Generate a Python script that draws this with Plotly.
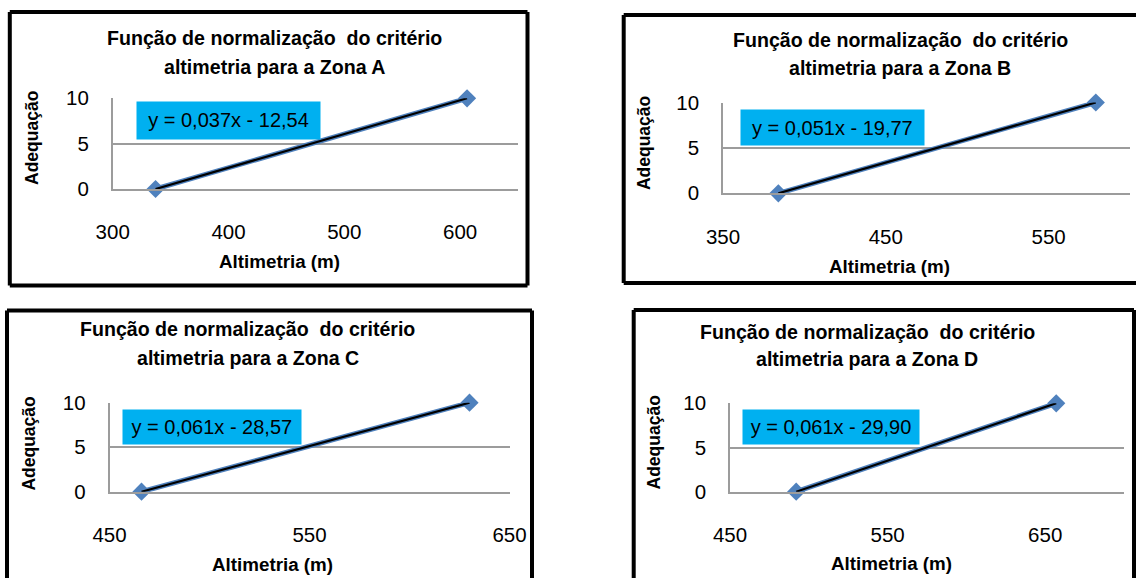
import plotly.graph_objects as go

# ---- data ----
zones = ["A", "B", "C", "D"]
altimetria = {
    "A": [337, 606],
    "B": [384, 579],
    "C": [466, 630],
    "D": [492, 657],
}
adequacao = {
    "A": [0, 10],
    "B": [0, 10],
    "C": [0, 10],
    "D": [0, 10],
}
equations = {
    "A": "y = 0,037x - 12,54",
    "B": "y = 0,051x - 19,77",
    "C": "y = 0,061x - 28,57",
    "D": "y = 0,061x - 29,90",
}
x_ranges = {"A": [300, 650], "B": [350, 600], "C": [450, 650], "D": [450, 700]}
x_tick0 = {"A": 300, "B": 350, "C": 450, "D": 450}
y_ticks = [0, 5, 10]
title_line1 = "Função de normalização\u00a0 do critério"
title_line2 = "altimetria para a Zona {}"
x_title = "Altimetria (m)"
y_title = "Adequação"

# ---- layout geometry (pixels) ----
W, H = 1136, 578
plot_px = {  # x0, x1, ytop, ybottom
    "A": (112.7, 518, 98.3, 189),
    "B": (723, 1130, 102.5, 193.3),
    "C": (109.5, 509.5, 402.7, 491.7),
    "D": (730, 1124, 403.3, 491.7),
}
# visible border edges: (x0, y0, x1, y1) segments in px
border_edges = {
    "A": [(9.8, 12, 527.5, 12), (527.5, 12, 527.5, 285.5),
          (527.5, 285.5, 9.8, 285.5), (9.8, 285.5, 9.8, 12)],
    "B": [(623.7, 15, 1136, 15), (623.7, 15, 623.7, 283), (623.7, 283, 1136, 283)],
    "C": [(7, 578, 7, 310.5), (7, 310.5, 532, 310.5), (532, 310.5, 532, 578)],
    "D": [(633.7, 578, 633.7, 310), (633.7, 310, 1134, 310), (1134, 310, 1134, 578)],
}
title_px = {  # center x, y line1, y line2
    "A": (274.5, 38.3, 66.7),
    "B": (900, 40, 68.3),
    "C": (248, 329.3, 357.7),
    "D": (867, 331.7, 359),
}
ytitle_px = {"A": (32.7, 138.3), "B": (643.8, 143.3), "C": (29.3, 443.3), "D": (653, 442.5)}
xtitle_px = {"A": (279, 261.7), "B": (889.7, 266.7), "C": (272, 564), "D": (891.3, 563.3)}
eqbox_px = {  # x0, x1, y0, y1
    "A": (136, 319, 101, 137.7),
    "B": (740.2, 923, 109, 144),
    "C": (121.9, 299.6, 409, 443.3),
    "D": (741.7, 917.7, 409, 442.7),
}

FONT = "Liberation Sans, Arial, sans-serif"
GRID = "#9C9C9C"
BLUE = "#4F81BD"

def px_x(v):
    return v / W

def px_y(v):
    return 1 - v / H

fig = go.Figure()
shapes = []
annotations = []

for i, z in enumerate(zones):
    idx = "" if i == 0 else str(i + 1)
    xa, ya = "x" + idx, "y" + idx
    # series line with diamonds
    fig.add_trace(go.Scatter(
        x=altimetria[z], y=adequacao[z], xaxis=xa, yaxis=ya,
        mode="lines+markers",
        line=dict(color=BLUE, width=5),
        marker=dict(symbol="diamond", size=14, color=BLUE),
        cliponaxis=False, showlegend=False, hoverinfo="skip",
    ))
    # linear trend line (black) over the series
    fig.add_trace(go.Scatter(
        x=altimetria[z], y=adequacao[z], xaxis=xa, yaxis=ya,
        mode="lines", line=dict(color="black", width=2.2),
        cliponaxis=False, showlegend=False, hoverinfo="skip",
    ))
    x0, x1, yt, yb = plot_px[z]
    fig.update_layout(**{
        "xaxis" + idx: dict(
            domain=[px_x(x0), px_x(x1)], range=x_ranges[z], anchor=ya,
            tick0=x_tick0[z], dtick=100, tickmode="linear",
            showgrid=False, zeroline=False, showline=True, linecolor=GRID, linewidth=1.5,
            ticks="", ticklabelstandoff=24, automargin=False,
            tickfont=dict(family=FONT, size=20.5, color="black"),
            fixedrange=True,
        ),
        "yaxis" + idx: dict(
            domain=[px_y(yb), px_y(yt)], range=[0, 10], anchor=xa,
            tickmode="array", tickvals=y_ticks,
            showgrid=True, gridcolor=GRID, gridwidth=1.5,
            zeroline=False, showline=True, linecolor=GRID, linewidth=1.5,
            ticks="", ticklabelstandoff=18, automargin=False,
            tickfont=dict(family=FONT, size=20.5, color="black"),
            fixedrange=True,
        ),
    })
    # border (only the edges visible on the canvas)
    for (sx0, sy0, sx1, sy1) in border_edges[z]:
        shapes.append(dict(type="line", xref="paper", yref="paper",
                           x0=px_x(sx0), x1=px_x(sx1), y0=px_y(sy0), y1=px_y(sy1),
                           line=dict(color="black", width=4)))
    # titles
    cx, l1, l2 = title_px[z]
    for txt, yy in ((title_line1, l1), (title_line2.format(z), l2)):
        annotations.append(dict(text="<b>" + txt + "</b>", xref="paper", yref="paper",
                                x=px_x(cx), y=px_y(yy), xanchor="center", yanchor="middle",
                                showarrow=False, font=dict(family=FONT, size=19.6, color="black")))
    # axis titles
    tx, ty = xtitle_px[z]
    annotations.append(dict(text="<b>" + x_title + "</b>", xref="paper", yref="paper",
                            x=px_x(tx), y=px_y(ty), xanchor="center", yanchor="middle",
                            showarrow=False, font=dict(family=FONT, size=18.8, color="black")))
    vx, vy = ytitle_px[z]
    annotations.append(dict(text="<b>" + y_title + "</b>", xref="paper", yref="paper",
                            x=px_x(vx), y=px_y(vy), xanchor="center", yanchor="middle",
                            textangle=-90, showarrow=False,
                            font=dict(family=FONT, size=17.5, color="black")))
    # equation box
    ex0, ex1, ey0, ey1 = eqbox_px[z]
    annotations.append(dict(text=equations[z], xref="paper", yref="paper",
                            x=px_x(ex0), y=px_y(ey0), xanchor="left", yanchor="top",
                            width=ex1 - ex0, height=ey1 - ey0, borderpad=0,
                            bgcolor="#00B0F0", align="center", valign="middle",
                            showarrow=False, font=dict(family=FONT, size=20, color="black")))

fig.update_layout(
    width=W, height=H, margin=dict(l=0, r=0, t=0, b=0, pad=0, autoexpand=False),
    paper_bgcolor="white", plot_bgcolor="white",
    shapes=shapes, annotations=annotations, showlegend=False,
)

fig.write_html(
    "out.html",
    config={"displayModeBar": False},
    post_script="document.body.style.margin='0';document.body.style.overflow='hidden';",
)
